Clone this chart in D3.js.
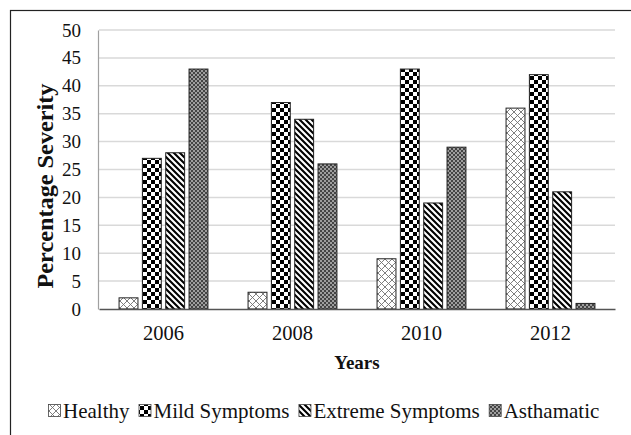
<!DOCTYPE html>
<html>
<head>
<meta charset="utf-8">
<script src="https://cdn.jsdelivr.net/npm/d3@7"></script>
<style>
  html, body { margin: 0; padding: 0; background: #fff; }
  svg { display: block; font-family: "Liberation Serif", "Times New Roman", serif; }
</style>
</head>
<body>
<svg id="chart" width="631" height="435"></svg>
<script>
// Severity by year
const years = ["2006", "2008", "2010", "2012"];
const series = ["Healthy", "Mild Symptoms", "Extreme Symptoms", "Asthamatic"];
const healthy = [2, 3, 9, 36];
const mild = [27, 37, 43, 42];
const extreme = [28, 34, 19, 21];
const asthmatic = [43, 26, 29, 1];
const yTicks = [0, 5, 10, 15, 20, 25, 30, 35, 40, 45, 50];

(function () {
  const svg = d3.select("#chart");
  const W = 631, H = 435;
  const m = { left: 99, right: 16, top: 30, bottom: 126 };
  const values = [healthy, mild, extreme, asthmatic];

  // fill patterns, one per series
  const defs = svg.append("defs");
  const pHealthy = defs.append("pattern").attr("id", "p0")
    .attr("patternUnits", "userSpaceOnUse").attr("width", 7).attr("height", 7);
  pHealthy.append("rect").attr("width", 7).attr("height", 7).attr("fill", "#fff");
  pHealthy.append("path").attr("d", "M0,0L7,7M7,0L0,7")
    .attr("stroke", "#707070").attr("stroke-width", 0.9);

  const pMild = defs.append("pattern").attr("id", "p1")
    .attr("patternUnits", "userSpaceOnUse").attr("width", 8).attr("height", 8);
  pMild.append("rect").attr("width", 8).attr("height", 8).attr("fill", "#fff");
  pMild.append("rect").attr("width", 4).attr("height", 4).attr("fill", "#000");
  pMild.append("rect").attr("x", 4).attr("y", 4).attr("width", 4).attr("height", 4).attr("fill", "#000");

  const pExt = defs.append("pattern").attr("id", "p2")
    .attr("patternUnits", "userSpaceOnUse").attr("width", 6).attr("height", 6);
  pExt.append("rect").attr("width", 6).attr("height", 6).attr("fill", "#fff");
  pExt.append("path").attr("d", "M-1,-1L7,7M-4,2L2,8M2,-4L8,2")
    .attr("stroke", "#000").attr("stroke-width", 2.1);

  const pAst = defs.append("pattern").attr("id", "p3")
    .attr("patternUnits", "userSpaceOnUse").attr("width", 4).attr("height", 4);
  pAst.append("rect").attr("width", 4).attr("height", 4).attr("fill", "#444");
  pAst.append("rect").attr("width", 2).attr("height", 2).attr("fill", "#9e9e9e");
  pAst.append("rect").attr("x", 2).attr("y", 2).attr("width", 2).attr("height", 2).attr("fill", "#9e9e9e");

  // outer frame (only top and left edges fall inside the picture)
  svg.append("rect")
    .attr("x", 10.5).attr("y", 10.5).attr("width", W + 10).attr("height", H + 10)
    .attr("fill", "none").attr("stroke", "#222").attr("stroke-width", 1.2);

  const x0 = d3.scaleBand().domain(years).range([m.left, W - m.right]);
  const x1 = d3.scaleBand().domain(series).range([0, x0.bandwidth()])
    .paddingInner(0.19).paddingOuter(0.86);
  const y = d3.scaleLinear().domain([0, 50]).range([H - m.bottom, m.top]);

  // gridlines
  svg.append("g")
    .selectAll("line")
    .data(yTicks.slice(1))
    .join("line")
    .attr("x1", m.left).attr("x2", W - m.right)
    .attr("y1", d => y(d)).attr("y2", d => y(d))
    .attr("stroke", "#d9d9d9").attr("stroke-width", 1.5);

  // y axis
  const yAxis = svg.append("g")
    .attr("transform", `translate(${m.left - 1},0)`)
    .call(d3.axisLeft(y).tickValues(yTicks).tickSize(0).tickPadding(17));
  yAxis.select(".domain").attr("stroke", "#a0a0a0").attr("stroke-width", 1.2);
  yAxis.selectAll("text")
    .attr("font-family", "Liberation Serif").attr("font-size", 19).attr("fill", "#111");

  // bars
  const rows = years.map((yr, i) => ({ yr, vals: series.map((s, j) => ({ s, j, v: values[j][i] })) }));
  svg.append("g")
    .selectAll("g")
    .data(rows)
    .join("g")
    .attr("transform", d => `translate(${x0(d.yr)},0)`)
    .selectAll("rect")
    .data(d => d.vals)
    .join("rect")
    .attr("x", d => x1(d.s))
    .attr("y", d => y(d.v))
    .attr("width", x1.bandwidth())
    .attr("height", d => y(0) - y(d.v))
    .attr("fill", d => `url(#p${d.j})`)
    .attr("stroke", "#222")
    .attr("stroke-width", 1);

  // x axis
  const xAxis = svg.append("g")
    .attr("transform", `translate(0,${y(0)})`)
    .call(d3.axisBottom(x0).tickSize(0).tickPadding(16));
  xAxis.select(".domain").attr("stroke", "#555").attr("stroke-width", 1.5);
  xAxis.selectAll("text")
    .attr("font-family", "Liberation Serif").attr("font-size", 20.5).attr("fill", "#111");

  // axis titles
  svg.append("text")
    .attr("x", (m.left + W - m.right) / 2).attr("y", 369)
    .attr("text-anchor", "middle")
    .attr("font-size", 19).attr("font-weight", "bold").attr("fill", "#111")
    .text("Years");

  svg.append("text")
    .attr("transform", "translate(53,186) rotate(-90)")
    .attr("text-anchor", "middle")
    .attr("font-size", 23).attr("font-weight", "bold").attr("fill", "#111")
    .attr("textLength", 205).attr("lengthAdjust", "spacingAndGlyphs")
    .text("Percentage Severity");

  // legend
  const legend = svg.append("g").attr("transform", "translate(0,418)");
  let lx = 48;
  series.forEach((s, j) => {
    legend.append("rect")
      .attr("x", lx + 0.5).attr("y", -13.5).attr("width", 12).attr("height", 12)
      .attr("fill", `url(#p${j})`).attr("stroke", "#444").attr("stroke-width", 0.8);
    const t = legend.append("text")
      .attr("x", lx + 15).attr("y", 0)
      .attr("font-size", 21).attr("fill", "#111")
      .text(s);
    lx += 15 + t.node().getComputedTextLength() + 9;
  });
})();
</script>
</body>
</html>
